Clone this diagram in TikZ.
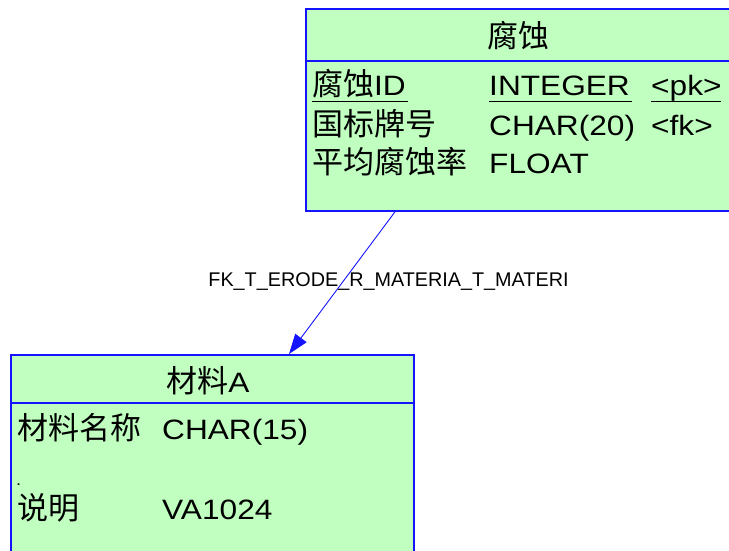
\documentclass[tikz,border=0pt]{standalone}
\usepackage{fontspec}
\setmainfont[FakeStretch=1.13]{Liberation Sans}
\newfontfamily\cjk{Noto Sans CJK SC}
\newfontfamily\lblfont{Liberation Sans}
\usetikzlibrary{arrows.meta,calc}
\definecolor{entfill}{RGB}{192,255,192}
\definecolor{entline}{RGB}{20,20,255}
\newcommand\zh[1]{{\cjk\fontsize{31}{31}\selectfont #1}}
\tikzset{
  entity/.style={draw=entline, fill=entfill, line width=1.8pt, rectangle, inner sep=0pt, anchor=north west},
  txt/.style={inner sep=0pt, anchor=base west, font=\fontsize{28}{28}\selectfont},
  ttl/.style={inner sep=0pt, anchor=base, font=\fontsize{28}{28}\selectfont},
  uline/.style={line width=1.3pt, black},
  fk/.style={entline, line width=0.9pt, -{Triangle[length=20pt,width=14pt]}},
  fklabel/.style={inner sep=0pt, anchor=base, font=\lblfont\fontsize{19.8}{19.8}\selectfont}
}
\begin{document}
\begin{tikzpicture}[x=1pt,y=-1pt]
\useasboundingbox (0,0) rectangle (729,550);
\clip (0,0) rectangle (729,550);
% top entity
\node[entity, minimum width=450pt, minimum height=202pt] (top) at (305,8) {};
\draw[entline, line width=1.8pt] ($(top.north west)+(0,53)$) -- ($(top.north east)+(0,53)$);
\node[ttl] (t0) at (518,47) {\zh{腐蚀}};
\node[txt] (t11) at (312,95) {\zh{腐蚀}ID};
\node[txt] (t12) at (489,95) {INTEGER};
\node[txt] (t13) at (651,95) {<pk>};
\draw[uline] (312,101.5) -- (408,101.5);
\draw[uline] (489,101.5) -- (632,101.5);
\draw[uline] (651,101.5) -- (721,101.5);
\node[txt] (t21) at (312,135) {\zh{国标牌号}};
\node[txt] (t22) at (489,135) {CHAR(20)};
\node[txt] (t23) at (651,135) {<fk>};
\node[txt] (t31) at (312,173) {\zh{平均腐蚀率}};
\node[txt] (t32) at (489,173) {FLOAT};
% bottom entity
\node[entity, minimum width=403pt, minimum height=220pt] (bot) at (10,354) {};
\draw[entline, line width=1.8pt] ($(bot.north west)+(0,49)$) -- ($(bot.north east)+(0,49)$);
\node[ttl] (b0) at (208,392) {\zh{材料}A};
\node[txt] (b11) at (17,439) {\zh{材料名称}};
\node[txt] (b12) at (162,439) {CHAR(15)};
\node[txt, font=\fontsize{16}{16}\selectfont] (bdot) at (16,485) {.};
\node[txt] (b21) at (17,519) {\zh{说明}};
\node[txt] (b22) at (162,519) {VA1024};
% connector
\coordinate (fa) at ($(top.south west)+(90,0)$);
\coordinate (fb) at ($(bot.north west)+(279,0)$);
\draw[fk] (fa) -- (fb);
\node[fklabel] (lbl) at (388.5,286) {FK\_T\_ERODE\_R\_MATERIA\_T\_MATERI};
\end{tikzpicture}
\end{document}
